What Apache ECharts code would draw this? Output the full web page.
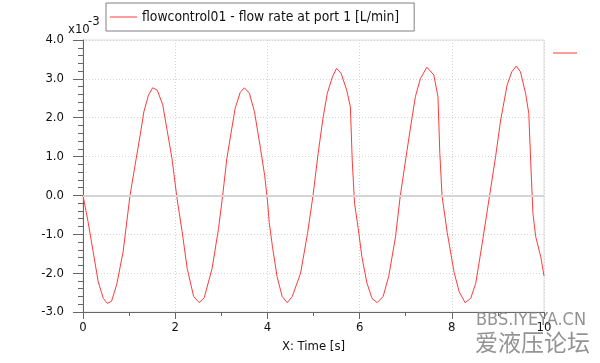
<!DOCTYPE html>
<html>
<head>
<meta charset="utf-8">
<script src="https://cdn.jsdelivr.net/npm/echarts@6/dist/echarts.min.js"></script>
<style>
html,body{margin:0;padding:0;background:#fff;}
#chart{width:600px;height:363px;}
</style>
</head>
<body>
<div id="chart"></div>
<script>
// Time [s]
var timeS = [0,0.11,0.22,0.33,0.44,0.53,0.62,0.73,0.87,1.02,1.13,1.24,1.32,1.42,1.51,1.61,1.73,1.83,1.93,
 2.04,2.15,2.26,2.40,2.52,2.63,2.80,2.94,3.03,3.12,3.30,3.41,3.50,3.61,3.72,3.85,3.94,
 4.00,4.04,4.11,4.21,4.32,4.43,4.54,4.72,4.87,4.99,5.10,5.21,5.30,5.41,5.50,5.60,5.72,5.80,5.84,5.89,5.97,
 6.05,6.16,6.27,6.38,6.51,6.63,6.78,6.88,7.03,7.14,7.21,7.32,7.46,7.61,7.70,7.74,7.79,7.90,
 8.05,8.16,8.29,8.41,8.52,8.66,8.82,8.95,9.06,9.20,9.30,9.40,9.49,9.60,9.67,9.71,9.76,9.82,9.93,10.0];
// flow rate at port 1 [L/min], in units of 1e-3
var flowRate = [0,-0.68,-1.45,-2.22,-2.65,-2.78,-2.72,-2.30,-1.45,0.0,0.78,1.55,2.15,2.58,2.77,2.71,2.33,1.64,0.95,
 -0.08,-0.93,-1.88,-2.60,-2.76,-2.63,-1.88,-0.85,0.0,0.95,2.24,2.65,2.77,2.63,2.15,1.21,0.52,
 -0.12,-0.70,-1.32,-2.09,-2.60,-2.76,-2.60,-2.00,-0.98,0.0,1.08,2.02,2.63,3.05,3.27,3.14,2.71,2.28,0.91,-0.20,-0.85,
 -1.58,-2.26,-2.65,-2.76,-2.60,-2.09,-1.06,-0.03,1.17,2.02,2.54,3.01,3.30,3.10,2.54,1.08,-0.03,-0.95,
 -1.98,-2.48,-2.76,-2.65,-2.26,-1.23,0.0,1.00,1.94,2.84,3.18,3.33,3.18,2.63,2.11,0.91,-0.46,-1.06,-1.58,-2.07];
var seriesName = 'flowcontrol01 - flow rate at port 1 [L/min]';
var xTitle = 'X: Time [s]';
var yMin = -3, yMax = 4, yStep = 1;
var xMin = 0, xMax = 10, xStep = 2;

var pts = timeS.map(function(t, i){ return [t, flowRate[i]]; });
var FONT = '"DejaVu Sans Condensed", "DejaVu Sans", sans-serif';
var RED = '#ff3b3b';

var chart = echarts.init(document.getElementById('chart'), null, {renderer:'canvas'});
chart.setOption({
  animation: false,
  backgroundColor: '#fff',
  grid: {left: 83, right: 56, top: 40, bottom: 51, show: true, borderColor: '#dcdcdc', borderWidth: 1, backgroundColor: 'transparent'},
  legend: {
    left: 106, top: 3,
    padding: [7, 15, 7, 4],
    borderColor: '#808080', borderWidth: 1, borderRadius: 0,
    backgroundColor: '#fff',
    icon: 'rect',
    itemWidth: 27, itemHeight: 1, itemGap: 4,
    itemStyle: {color: RED, borderWidth: 0},
    textStyle: {fontFamily: FONT, fontSize: 13.8, color: '#111', padding: [0, 0, 0, 0]},
    data: [seriesName]
  },
  xAxis: {
    type: 'value', min: xMin, max: xMax, interval: xStep,
    name: xTitle, nameLocation: 'middle', nameGap: 28,
    nameTextStyle: {fontFamily: FONT, fontSize: 13, color: '#111'},
    axisLine: {show: true, onZero: false, lineStyle: {color: '#666', width: 1}},
    axisTick: {show: true, inside: false, length: 7, lineStyle: {color: '#666'}},
    minorTick: {show: true, splitNumber: 2, length: 4, lineStyle: {color: '#666'}},
    axisLabel: {fontFamily: FONT, fontSize: 13, color: '#111', margin: 9, showMaxLabel: true, showMinLabel: true},
    splitLine: {show: true, lineStyle: {color: '#d6d6d6', type: [1, 2], width: 1}}
  },
  yAxis: {
    type: 'value', min: yMin, max: yMax, interval: yStep,
    axisLine: {show: true, onZero: false, lineStyle: {color: '#666', width: 1}},
    axisTick: {show: true, inside: false, length: 10, lineStyle: {color: '#666'}},
    minorTick: {show: true, splitNumber: 5, length: 5, lineStyle: {color: '#666'}},
    axisLabel: {fontFamily: FONT, fontSize: 13, color: '#111', margin: 19,
      formatter: function(v){ return v.toFixed(1); }},
    splitLine: {show: true, lineStyle: {color: '#d6d6d6', type: [1, 2], width: 1}}
  },
  series: [{
    name: seriesName, type: 'line', data: pts,
    symbol: 'none', smooth: false,
    lineStyle: {color: RED, width: 1},
    itemStyle: {color: RED},
    markLine: {
      silent: true, symbol: ['none', 'none'], animation: false,
      label: {show: false},
      lineStyle: {color: '#d4d4d4', type: 'solid', width: 2},
      emphasis: {disabled: true},
      data: [{yAxis: 0}]
    },
    z: 3
  }],
  graphic: [
    {type: 'text', left: 68, top: 23, z: 10,
      style: {text: 'x10', fontFamily: FONT, fontSize: 13, fill: '#111'}},
    {type: 'text', left: 88, top: 15, z: 10,
      style: {text: '-3', fontFamily: FONT, fontSize: 13, fill: '#111'}},
    {type: 'line', z: 10, shape: {x1: 553, y1: 53, x2: 577, y2: 53},
      style: {stroke: RED, lineWidth: 1}},
    {type: 'text', left: 476, top: 311, z: 20,
      style: {text: 'BBS.IYEYA.CN', fontFamily: '"Liberation Sans Narrow", "DejaVu Sans Condensed", sans-serif', fontSize: 18, fill: 'rgba(128,128,128,0.85)'}},
    {type: 'text', left: 475, top: 331, z: 20,
      style: {text: '爱液压论坛', fontFamily: '"Noto Sans CJK SC", sans-serif', fontSize: 23, fill: 'rgba(128,128,128,0.85)'}}
  ]
});
</script>
</body>
</html>
